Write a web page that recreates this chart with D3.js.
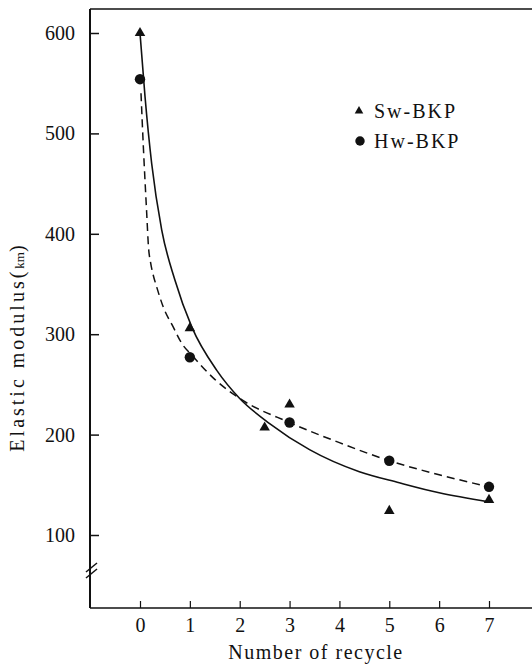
<!DOCTYPE html>
<html>
<head>
<meta charset="utf-8">
<script src="https://cdn.jsdelivr.net/npm/d3@7/dist/d3.min.js"></script>
<style>
  html, body { margin: 0; padding: 0; background: #fff; }
  svg text { font-family: "Liberation Serif", "DejaVu Serif", serif; fill: #111; }
</style>
</head>
<body>
<svg id="chart" width="532" height="666"></svg>
<script>
// Measured points
const recycleSw = [0, 1, 2.5, 3, 5, 7];
const modulusSw = [600, 306, 207, 230, 124, 135];
const recycleHw = [0, 1, 3, 5, 7];
const modulusHw = [554, 277, 212, 174, 148];

// Fitted curves (solid: Sw-BKP, dashed: Hw-BKP)
const fitSwX = [0, 0.10, 0.234, 0.435, 0.70, 1.04, 1.54, 2.0, 2.6, 3.4, 4.4, 5.2, 6.0, 7.0];
const fitSwY = [600, 537, 470, 404, 354, 307, 264, 236, 211, 185, 163, 152, 142, 133];
const fitHwX = [0.02, 0.067, 0.134, 0.17, 0.21, 0.26, 0.335, 0.467, 0.668, 0.836, 1.06, 1.5, 2.0, 3.0, 4.0, 5.0, 6.0, 7.0];
const fitHwY = [540, 487, 421, 387, 372, 360, 347, 327, 307, 291, 278, 255, 236, 212, 192, 174, 160, 148];

const xTicks = [0, 1, 2, 3, 4, 5, 6, 7];
const yTicks = [100, 200, 300, 400, 500, 600];
const seriesNames = ["Sw-BKP", "Hw-BKP"];

const svg = d3.select("#chart");
const frameLeft = 90, frameRight = 532, frameTop = 9, frameBottom = 608;

const x = d3.scaleLinear().domain([0, 7]).range([140, 489]);
const y = d3.scaleLinear().domain([100, 600]).range([535, 33]);

const ink = "#111";

// Frame: top rule and axis lines
svg.append("line").attr("x1", frameLeft).attr("x2", frameRight).attr("y1", frameTop).attr("y2", frameTop)
  .attr("stroke", ink).attr("stroke-width", 1.5);
svg.append("line").attr("x1", frameLeft).attr("x2", frameLeft).attr("y1", frameTop).attr("y2", frameBottom)
  .attr("stroke", ink).attr("stroke-width", 2);
svg.append("line").attr("x1", frameLeft).attr("x2", frameRight).attr("y1", frameBottom).attr("y2", frameBottom)
  .attr("stroke", ink).attr("stroke-width", 1.5);

// Y axis ticks (inward)
const yAxis = d3.axisLeft(y).tickValues(yTicks).tickSizeInner(-9).tickSizeOuter(0)
  .tickPadding(15).tickFormat(d3.format("d"));
const gy = svg.append("g").attr("transform", `translate(${frameLeft},0)`).call(yAxis)
  .attr("font-family", null).attr("font-size", null);
gy.select(".domain").remove();
gy.selectAll(".tick line").attr("stroke", ink).attr("stroke-width", 1.5);
gy.selectAll(".tick text").attr("font-size", 20).attr("fill", ink);

// X axis ticks (inward)
const xAxis = d3.axisBottom(x).tickValues(xTicks).tickSizeInner(-7).tickSizeOuter(0)
  .tickPadding(10).tickFormat(d3.format("d"));
const gx = svg.append("g").attr("transform", `translate(0,${frameBottom})`).call(xAxis)
  .attr("font-family", null).attr("font-size", null);
gx.select(".domain").remove();
gx.selectAll(".tick line").attr("stroke", ink).attr("stroke-width", 1.2);
gx.selectAll(".tick text").attr("font-size", 20).attr("fill", ink);

// Axis break marks
const breakY = 570;
[-3, 3].forEach(dy => {
  svg.append("line")
    .attr("x1", frameLeft - 4).attr("y1", breakY + dy + 5)
    .attr("x2", frameLeft + 7).attr("y2", breakY + dy - 4)
    .attr("stroke", ink).attr("stroke-width", 1.5);
});

// Axis titles
svg.append("text").attr("x", 316).attr("y", 659).attr("text-anchor", "middle")
  .attr("font-size", 20).attr("letter-spacing", 1.5).text("Number of recycle");

const yTitle = svg.append("text")
  .attr("transform", "translate(24,347) rotate(-90)")
  .attr("text-anchor", "middle").attr("font-size", 20).attr("letter-spacing", 3);
yTitle.append("tspan").text("Elastic modulus(");
yTitle.append("tspan").attr("font-size", 13).attr("letter-spacing", 0).text("km");
yTitle.append("tspan").text(")");

// Fitted curves
const line = d3.line().x(d => x(d[0])).y(d => y(d[1])).curve(d3.curveMonotoneX);
svg.append("path").datum(fitSwX.map((v, i) => [v, fitSwY[i]]))
  .attr("d", line).attr("fill", "none").attr("stroke", ink).attr("stroke-width", 1.6);
svg.append("path").datum(fitHwX.map((v, i) => [v, fitHwY[i]]))
  .attr("d", line).attr("fill", "none").attr("stroke", ink).attr("stroke-width", 1.5)
  .attr("stroke-dasharray", "8,5");

// Markers
const tri = d3.symbol().type(d3.symbolTriangle).size(48);
const dot = d3.symbol().type(d3.symbolCircle).size(85);
svg.append("g").selectAll("path").data(recycleSw.map((v, i) => [v, modulusSw[i]]))
  .join("path").attr("d", tri)
  .attr("transform", d => `translate(${x(d[0])},${y(d[1])})`).attr("fill", ink);
svg.append("g").selectAll("path").data(recycleHw.map((v, i) => [v, modulusHw[i]]))
  .join("path").attr("d", dot)
  .attr("transform", d => `translate(${x(d[0])},${y(d[1])})`).attr("fill", ink);

// Legend
const legend = svg.append("g");
legend.append("path").attr("d", d3.symbol().type(d3.symbolTriangle).size(32))
  .attr("transform", "translate(359,111)").attr("fill", ink);
legend.append("path").attr("d", d3.symbol().type(d3.symbolCircle).size(70))
  .attr("transform", "translate(360,141)").attr("fill", ink);
legend.selectAll("text").data(seriesNames).join("text")
  .attr("x", 374).attr("y", (d, i) => 118 + i * 30)
  .attr("font-size", 20).attr("letter-spacing", 2).text(d => d);
</script>
</body>
</html>
